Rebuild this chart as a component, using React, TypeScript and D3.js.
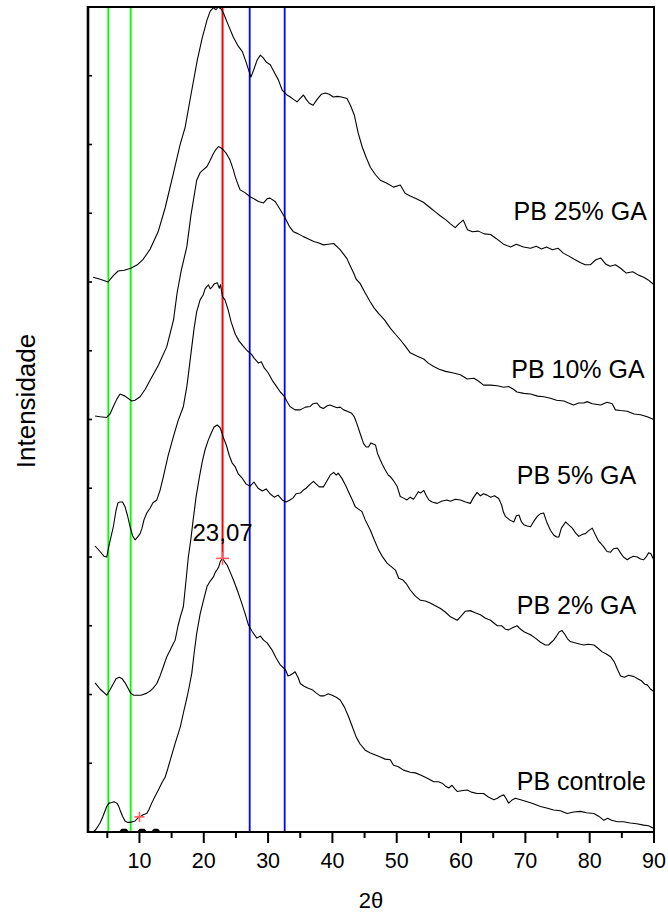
import React from "react";
import * as d3 from "d3";

// ---- data (2θ in degrees, intensity in arbitrary stacked units) ----
const pb25: [number, number][] = [
  [2.8, 8.07], [3.9, 8.04], [5.13, 8.0], [5.9, 8.09], [6.69, 8.16], [7.62, 8.17], [8.67, 8.2], [9.65, 8.25],
  [10.58, 8.33], [11.67, 8.48], [12.9, 8.73], [14.0, 9.08], [15.25, 9.57], [16.3, 9.99], [17.1, 10.25],
  [18.0, 10.72], [19.0, 11.23], [19.76, 11.55], [20.5, 11.81], [21.0, 11.94], [21.5, 11.99], [21.9, 11.96],
  [22.25, 12.0], [22.7, 11.97], [23.07, 11.91], [23.8, 11.74], [24.6, 11.56], [25.36, 11.43], [26.0, 11.35],
  [26.6, 11.19], [27.33, 10.98], [27.85, 11.11], [28.3, 11.23], [28.8, 11.3], [29.25, 11.26], [29.7, 11.2],
  [30.34, 11.16], [30.96, 11.05], [31.6, 10.94], [32.2, 10.79], [32.94, 10.72], [33.45, 10.69], [33.9, 10.66],
  [34.5, 10.62], [35.0, 10.67], [35.5, 10.72], [35.9, 10.66], [36.4, 10.6], [37.0, 10.57], [37.65, 10.66],
  [38.27, 10.73], [38.9, 10.75], [39.5, 10.73], [40.14, 10.69], [40.77, 10.7], [41.4, 10.69], [42.27, 10.67],
  [42.8, 10.57], [43.4, 10.43], [44.0, 10.17], [44.65, 9.96], [45.3, 9.8], [45.9, 9.67], [46.7, 9.56],
  [47.45, 9.48], [48.4, 9.44], [49.5, 9.38], [50.56, 9.41], [51.3, 9.29], [52.1, 9.25], [53.05, 9.21],
  [54.14, 9.16], [55.2, 9.08], [56.0, 9.02], [56.8, 8.96], [57.7, 8.9], [58.3, 8.85], [59.1, 8.79],
  [59.7, 8.85], [60.35, 8.9], [61.0, 8.76], [61.76, 8.73], [62.7, 8.74], [63.6, 8.7], [64.6, 8.69],
  [65.5, 8.63], [66.6, 8.55], [67.7, 8.51], [68.6, 8.55], [69.7, 8.51], [70.8, 8.49], [71.7, 8.52],
  [72.5, 8.48], [73.3, 8.51], [74.2, 8.47], [75.1, 8.49], [75.9, 8.42], [76.7, 8.38], [77.6, 8.33],
  [78.6, 8.28], [79.3, 8.25], [80.1, 8.25], [80.9, 8.32], [81.7, 8.35], [82.5, 8.26], [83.2, 8.23],
  [84.0, 8.25], [84.8, 8.2], [85.7, 8.13], [86.7, 8.15], [87.6, 8.1], [88.4, 8.07], [89.1, 8.03], [90.0, 7.96],
];

const pb10: [number, number][] = [
  [3.1, 6.05], [3.87, 6.04], [4.91, 6.03], [5.42, 6.08], [5.94, 6.19], [6.5, 6.3], [6.98, 6.37], [7.76, 6.34],
  [8.8, 6.27], [9.3, 6.28], [10.1, 6.33], [10.9, 6.44], [11.65, 6.57], [12.94, 6.79], [14.25, 7.06],
  [15.3, 7.45], [15.85, 7.84], [16.5, 8.17], [17.36, 8.51], [18.0, 8.97], [18.9, 9.48], [19.43, 9.59],
  [19.9, 9.63], [20.5, 9.68], [21.0, 9.77], [21.5, 9.87], [21.9, 9.93], [22.28, 9.97], [22.7, 9.95],
  [23.06, 9.92], [23.5, 9.87], [24.1, 9.77], [24.6, 9.63], [24.9, 9.53], [25.35, 9.41], [25.65, 9.34],
  [26.4, 9.3], [27.2, 9.24], [27.8, 9.21], [28.5, 9.17], [29.3, 9.15], [29.85, 9.21], [30.3, 9.22],
  [31.1, 9.17], [31.9, 9.05], [32.65, 8.93], [33.3, 8.81], [33.95, 8.73], [34.7, 8.7], [35.5, 8.66],
  [36.2, 8.63], [37.1, 8.59], [37.8, 8.57], [38.6, 8.54], [39.35, 8.55], [40.2, 8.56], [40.75, 8.51],
  [41.2, 8.47], [41.7, 8.41], [42.26, 8.34], [42.8, 8.23], [43.3, 8.13], [43.7, 8.04], [44.3, 7.98],
  [45.1, 7.84], [45.9, 7.71], [46.5, 7.62], [47.2, 7.54], [48.1, 7.45], [49.0, 7.33], [49.8, 7.24],
  [50.55, 7.16], [51.3, 7.07], [52.1, 6.97], [53.2, 6.92], [54.2, 6.88], [54.9, 6.82], [55.75, 6.77],
  [56.6, 6.73], [57.6, 6.7], [58.65, 6.68], [59.9, 6.65], [60.95, 6.59], [62.0, 6.6], [62.7, 6.56],
  [63.5, 6.5], [64.6, 6.5], [65.65, 6.49], [66.6, 6.47], [67.4, 6.48], [68.15, 6.44], [68.7, 6.4],
  [69.75, 6.38], [70.8, 6.37], [71.9, 6.34], [72.85, 6.33], [73.9, 6.31], [74.85, 6.28], [76.0, 6.27],
  [76.7, 6.24], [77.5, 6.21], [78.3, 6.24], [79.1, 6.24], [79.6, 6.26], [80.4, 6.23], [81.7, 6.21],
  [82.7, 6.25], [83.5, 6.23], [84.0, 6.14], [84.8, 6.13], [85.85, 6.12], [86.9, 6.08], [87.9, 6.07],
  [88.95, 6.04], [89.95, 6.0],
];

const pb5: [number, number][] = [
  [3.1, 4.16], [3.87, 4.08], [4.5, 4.01], [4.91, 4.0], [5.27, 4.17], [5.94, 4.44], [6.36, 4.68], [6.67, 4.79],
  [6.98, 4.8], [7.37, 4.8], [7.76, 4.73], [8.15, 4.6], [8.54, 4.44], [8.93, 4.31], [9.32, 4.25], [9.7, 4.29],
  [10.1, 4.34], [10.4, 4.42], [10.7, 4.54], [11.14, 4.64], [11.65, 4.71], [12.1, 4.79], [12.7, 4.83],
  [13.2, 4.97], [13.72, 5.17], [14.45, 5.47], [15.28, 5.75], [16.0, 5.98], [16.83, 6.19], [17.4, 6.5],
  [18.14, 7.06], [18.5, 7.33], [18.9, 7.57], [19.43, 7.74], [19.9, 7.81], [20.2, 7.9], [20.72, 7.96],
  [21.0, 7.9], [21.3, 7.93], [21.6, 7.97], [22.1, 7.99], [22.4, 7.91], [22.6, 7.96], [22.9, 7.79],
  [23.3, 7.74], [23.8, 7.59], [24.25, 7.42], [24.9, 7.24], [25.5, 7.14], [26.1, 7.07], [26.75, 7.0],
  [27.4, 6.95], [27.85, 6.89], [28.5, 6.82], [28.95, 6.84], [29.4, 6.75], [30.0, 6.68], [30.65, 6.57],
  [31.25, 6.49], [31.9, 6.4], [32.5, 6.34], [33.0, 6.25], [33.4, 6.19], [34.2, 6.14], [35.0, 6.14],
  [35.8, 6.18], [36.55, 6.19], [37.0, 6.23], [37.6, 6.24], [38.1, 6.18], [38.6, 6.16], [39.2, 6.2],
  [39.65, 6.21], [40.2, 6.19], [40.75, 6.17], [41.2, 6.18], [41.75, 6.14], [42.3, 6.12], [43.0, 6.09],
  [43.4, 6.04], [43.8, 5.94], [44.3, 5.8], [44.85, 5.65], [45.25, 5.6], [45.6, 5.6], [46.0, 5.66],
  [46.7, 5.63], [47.0, 5.51], [47.45, 5.41], [47.75, 5.35], [48.2, 5.27], [48.7, 5.19], [49.0, 5.17],
  [49.5, 5.11], [50.05, 5.03], [50.55, 4.88], [51.0, 4.86], [51.6, 4.83], [52.1, 4.87], [52.6, 4.84],
  [52.9, 4.88], [53.35, 4.95], [53.7, 4.93], [54.2, 4.97], [54.6, 4.89], [55.0, 4.83], [55.5, 4.8],
  [56.3, 4.78], [56.95, 4.81], [57.8, 4.83], [58.35, 4.81], [59.1, 4.84], [59.9, 4.83], [60.7, 4.8],
  [61.45, 4.78], [61.9, 4.86], [62.5, 4.94], [63.0, 4.89], [63.5, 4.92], [64.05, 4.9], [64.6, 4.87],
  [65.2, 4.89], [65.85, 4.85], [66.3, 4.76], [66.6, 4.65], [66.9, 4.59], [67.55, 4.54], [68.2, 4.51],
  [68.6, 4.6], [69.0, 4.61], [69.4, 4.51], [69.75, 4.47], [70.3, 4.45], [70.8, 4.44], [71.25, 4.51],
  [71.85, 4.59], [72.35, 4.63], [72.85, 4.64], [73.1, 4.57], [73.4, 4.49], [73.9, 4.39], [74.4, 4.32],
  [74.85, 4.29], [75.2, 4.29], [75.6, 4.42], [76.25, 4.51], [76.7, 4.47], [77.3, 4.42], [77.8, 4.35],
  [78.3, 4.3], [78.9, 4.33], [79.35, 4.34], [79.8, 4.38], [80.4, 4.42], [80.9, 4.32], [81.4, 4.23],
  [81.7, 4.2], [82.15, 4.15], [82.7, 4.08], [83.25, 4.07], [83.7, 4.12], [84.3, 4.13], [84.8, 4.06],
  [85.25, 4.0], [85.85, 3.96], [86.3, 3.99], [86.8, 4.01], [87.4, 4.0], [87.9, 3.97], [88.4, 3.96],
  [88.85, 4.01], [89.15, 4.06], [89.5, 4.05], [89.9, 3.97],
];

const pb2: [number, number][] = [
  [3.1, 2.17], [3.87, 2.08], [4.91, 1.99], [5.42, 2.07], [5.9, 2.15], [6.36, 2.23], [6.87, 2.25], [7.3, 2.23],
  [7.76, 2.17], [8.23, 2.09], [8.64, 2.02], [9.1, 1.99], [9.58, 1.99], [10.25, 1.99], [11.14, 2.02],
  [11.65, 2.05], [12.1, 2.09], [12.7, 2.16], [13.2, 2.27], [13.7, 2.4], [14.25, 2.55], [14.8, 2.65],
  [15.15, 2.72], [15.55, 2.79], [16.0, 3.0], [16.35, 3.13], [16.83, 3.28], [17.25, 3.67], [17.6, 4.0],
  [17.98, 4.25], [18.35, 4.54], [18.8, 4.87], [19.3, 5.15], [19.75, 5.38], [20.2, 5.56], [20.7, 5.7],
  [21.2, 5.81], [21.6, 5.89], [22.1, 5.92], [22.55, 5.88], [23.0, 5.75], [23.5, 5.63], [23.95, 5.48],
  [24.4, 5.37], [24.9, 5.31], [25.35, 5.21], [25.95, 5.15], [26.6, 5.06], [27.2, 5.03], [27.8, 5.09],
  [28.45, 5.0], [29.1, 4.96], [29.7, 4.99], [30.3, 4.92], [30.95, 4.87], [31.55, 4.9], [32.2, 4.83],
  [32.8, 4.8], [33.4, 4.83], [33.9, 4.86], [34.35, 4.92], [35.0, 4.93], [35.45, 4.97], [35.9, 5.0],
  [36.55, 5.06], [37.05, 5.1], [37.5, 5.06], [37.95, 5.02], [38.6, 5.02], [39.05, 5.09], [39.65, 5.19],
  [40.2, 5.23], [40.6, 5.19], [40.9, 5.22], [41.5, 5.14], [42.0, 5.05], [42.5, 4.95], [43.1, 4.83],
  [43.55, 4.73], [44.0, 4.7], [44.6, 4.66], [45.1, 4.54], [45.9, 4.39], [46.5, 4.25], [47.2, 4.1],
  [47.75, 4.01], [48.5, 3.91], [49.0, 3.87], [49.8, 3.81], [50.3, 3.69], [50.9, 3.67], [51.5, 3.61],
  [52.1, 3.52], [52.9, 3.43], [53.7, 3.37], [54.45, 3.36], [55.2, 3.33], [56.0, 3.29], [56.8, 3.25],
  [57.55, 3.2], [58.35, 3.13], [59.4, 3.08], [59.9, 3.13], [60.65, 3.21], [61.45, 3.22], [62.2, 3.19],
  [63.0, 3.16], [63.8, 3.11], [64.6, 3.08], [65.1, 3.04], [65.65, 3.0], [66.3, 3.0], [66.9, 2.95],
  [67.4, 2.94], [68.0, 2.97], [68.7, 3.0], [69.25, 2.95], [69.85, 2.91], [70.8, 2.87], [71.55, 2.82],
  [72.35, 2.76], [73.1, 2.72], [73.6, 2.72], [74.05, 2.76], [74.4, 2.79], [74.85, 2.85], [75.25, 2.91],
  [75.7, 2.93], [76.1, 2.88], [76.55, 2.81], [77.0, 2.77], [77.8, 2.75], [78.6, 2.73], [79.1, 2.72],
  [79.8, 2.73], [80.65, 2.72], [81.2, 2.68], [81.95, 2.62], [82.6, 2.59], [83.25, 2.55], [83.85, 2.47],
  [84.35, 2.36], [84.8, 2.27], [85.4, 2.25], [86.05, 2.28], [86.9, 2.26], [87.45, 2.23], [88.05, 2.2],
  [88.55, 2.15], [88.95, 2.14], [89.45, 2.08], [90.0, 2.04],
];

const pbControle: [number, number][] = [
  [2.83, 0.0], [3.25, 0.04], [3.87, 0.13], [4.33, 0.23], [4.91, 0.37], [5.27, 0.42], [5.69, 0.43],
  [6.05, 0.44], [6.47, 0.42], [6.75, 0.38], [6.98, 0.32], [7.37, 0.23], [7.76, 0.16], [8.15, 0.14],
  [8.54, 0.14], [8.93, 0.15], [9.32, 0.16], [9.7, 0.2], [10.1, 0.22], [10.55, 0.25], [11.14, 0.27],
  [11.5, 0.33], [11.9, 0.42], [12.43, 0.52], [12.94, 0.61], [13.45, 0.71], [14.0, 0.8], [14.4, 0.92],
  [14.8, 1.05], [15.55, 1.29], [16.35, 1.53], [16.9, 1.76], [17.4, 1.96], [17.75, 2.12], [18.14, 2.31],
  [18.5, 2.6], [18.9, 2.89], [19.43, 3.17], [19.95, 3.37], [20.5, 3.57], [21.0, 3.65], [21.5, 3.71],
  [21.8, 3.78], [22.03, 3.81], [22.3, 3.85], [22.55, 3.93], [22.9, 3.98], [23.25, 3.93], [23.65, 3.88],
  [24.1, 3.78], [24.6, 3.67], [25.2, 3.52], [25.9, 3.33], [26.45, 3.17], [26.95, 3.01], [27.5, 2.92],
  [28.25, 2.82], [28.8, 2.85], [29.3, 2.79], [29.85, 2.75], [30.6, 2.65], [31.25, 2.53], [31.9, 2.43],
  [32.7, 2.36], [33.1, 2.27], [33.4, 2.28], [33.9, 2.31], [34.2, 2.33], [34.7, 2.24], [35.0, 2.16],
  [35.6, 2.12], [36.25, 2.09], [36.85, 2.07], [37.5, 2.02], [38.1, 1.98], [38.7, 1.98], [39.35, 2.01],
  [39.95, 1.99], [40.6, 1.96], [41.2, 1.92], [41.85, 1.82], [42.45, 1.69], [43.1, 1.53], [43.7, 1.38],
  [44.3, 1.28], [45.1, 1.19], [45.9, 1.15], [46.7, 1.12], [47.45, 1.09], [48.2, 1.06], [49.0, 1.05],
  [49.5, 0.97], [50.25, 0.95], [51.05, 0.9], [52.1, 0.87], [52.9, 0.86], [53.7, 0.83], [54.6, 0.79],
  [55.75, 0.73], [56.5, 0.73], [57.05, 0.71], [57.55, 0.67], [58.1, 0.64], [58.6, 0.68], [59.0, 0.63],
  [59.4, 0.59], [60.05, 0.6], [60.95, 0.61], [61.6, 0.58], [62.5, 0.56], [63.5, 0.56], [64.25, 0.51],
  [65.1, 0.47], [65.65, 0.49], [66.1, 0.52], [66.65, 0.54], [67.05, 0.48], [67.4, 0.42], [68.0, 0.47],
  [68.45, 0.49], [69.25, 0.47], [70.3, 0.44], [71.25, 0.41], [72.35, 0.37], [73.3, 0.35], [74.4, 0.32],
  [75.45, 0.31], [76.5, 0.27], [77.5, 0.29], [78.6, 0.3], [79.5, 0.28], [80.65, 0.27], [81.4, 0.23],
  [82.2, 0.17], [82.8, 0.2], [83.4, 0.17], [84.3, 0.15], [85.25, 0.15], [86.3, 0.13], [87.3, 0.12],
  [88.4, 0.1], [89.15, 0.09], [90.0, 0.05],
];

// short trace hugging the baseline near 7–13°
const baselineTrace: [number, number][] = [
  [7.0, 0], [7.3, 0.03], [7.9, 0.03], [8.2, 0], [9.8, 0], [10.1, 0.03], [10.7, 0.03], [11.0, 0],
  [12.0, 0], [12.3, 0.03], [12.8, 0.03], [13.1, 0],
];

const seriesList = [pb25, pb10, pb5, pb2, pbControle];
const seriesLabels = ["PB 25% GA", "PB 10% GA", "PB 5% GA", "PB 2% GA", "PB controle"];
const labelX = [68.15, 67.8, 68.66, 68.66, 68.66];
const labelY = [8.9, 6.6, 5.06, 3.17, 0.61];

const greenLines = [5.16, 8.64];
const blueLines = [27.14, 32.58];
const redLine = 22.92;
const peakMarker: [number, number] = [22.92, 3.98];
const smallMarker: [number, number] = [10.0, 0.22];
const peakLabel = "23,07";
const peakLabelY = 4.24;

const xMajorTicks = [10, 20, 30, 40, 50, 60, 70, 80, 90];
const xMinorTicks = [5, 15, 25, 35, 45, 55, 65, 75, 85];
const yTicks = d3.range(0, 13, 1);
const xDomain: [number, number] = [2, 90];
const yDomain: [number, number] = [0, 12];

export default function App() {
  const W = 668;
  const H = 915;
  const left = 88, right = 654, top = 7, bottom = 832;
  const x = d3.scaleLinear().domain(xDomain).range([left, right]);
  const y = d3.scaleLinear().domain(yDomain).range([bottom, top]);
  const line = d3.line<[number, number]>().x((d) => x(d[0])).y((d) => y(d[1]));
  const font = "Arial, 'Liberation Sans', Helvetica, sans-serif";

  const cross = (p: [number, number], s: number, key: string) => (
    <g key={key} stroke="#ff5b5b" strokeWidth={1.6}>
      <line x1={x(p[0]) - s / 2} x2={x(p[0]) + s / 2} y1={y(p[1])} y2={y(p[1])} />
      <line x1={x(p[0])} x2={x(p[0])} y1={y(p[1]) - s / 2} y2={y(p[1]) + s / 2} />
    </g>
  );

  return (
    <div style={{ position: "absolute", left: 0, top: 0 }}>
      <svg width={W} height={H} style={{ display: "block", background: "#fff" }} fontFamily={font}>
        <rect x={0} y={0} width={W} height={H} fill="#fff" />
        {/* reference lines */}
        {greenLines.map((v, i) => (
          <line key={"g" + i} x1={x(v)} x2={x(v)} y1={top} y2={bottom} stroke="#00ff00" strokeWidth={1.8} />
        ))}
        {blueLines.map((v, i) => (
          <line key={"b" + i} x1={x(v)} x2={x(v)} y1={top} y2={bottom} stroke="#0000ff" strokeWidth={1.8} />
        ))}
        <line x1={x(redLine)} x2={x(redLine)} y1={top} y2={y(peakMarker[1])} stroke="#ff0000" strokeWidth={2} />

        {/* curves */}
        {seriesList.map((s, i) => (
          <path key={"s" + i} d={line(s) || ""} fill="none" stroke="#000" strokeWidth={1.1} strokeLinejoin="round" />
        ))}
        <path d={line(baselineTrace) || ""} fill="none" stroke="#000" strokeWidth={2.2} />

        {cross(peakMarker, 13, "m1")}
        {cross(smallMarker, 10, "m2")}

        <text x={x(redLine)} y={y(peakLabelY)} fontSize={24} textAnchor="middle" fill="#000">{peakLabel}</text>

        {seriesLabels.map((t, i) => (
          <text key={"l" + i} x={x(labelX[i])} y={y(labelY[i])} fontSize={25} fill="#000">{t}</text>
        ))}

        {/* frame */}
        <rect x={left} y={top} width={right - left} height={bottom - top} fill="none" stroke="#000" strokeWidth={2} />
        <line x1={left} x2={left} y1={top - 1} y2={bottom + 1} stroke="#000" strokeWidth={2.6} />

        {/* y ticks (inward) */}
        {yTicks.map((t) => (
          <line key={"yt" + t} x1={left} x2={left + 4} y1={y(t)} y2={y(t)} stroke="#000" strokeWidth={1.6} />
        ))}

        {/* x ticks */}
        {xMajorTicks.map((t) => (
          <g key={"xm" + t}>
            <line x1={x(t)} x2={x(t)} y1={bottom} y2={bottom + 11} stroke="#000" strokeWidth={2} />
            <text x={x(t)} y={868} fontSize={21.5} textAnchor="middle" fill="#000">{t}</text>
          </g>
        ))}
        {xMinorTicks.map((t) => (
          <line key={"xn" + t} x1={x(t)} x2={x(t)} y1={bottom} y2={bottom + 6} stroke="#000" strokeWidth={2} />
        ))}

        {/* axis titles */}
        <text x={(left + right) / 2} y={908} fontSize={22} textAnchor="middle" fill="#000">2θ</text>
        <text transform={`translate(35, 401) rotate(-90)`} fontSize={26} textAnchor="middle" fill="#000">Intensidade</text>
      </svg>
    </div>
  );
}
